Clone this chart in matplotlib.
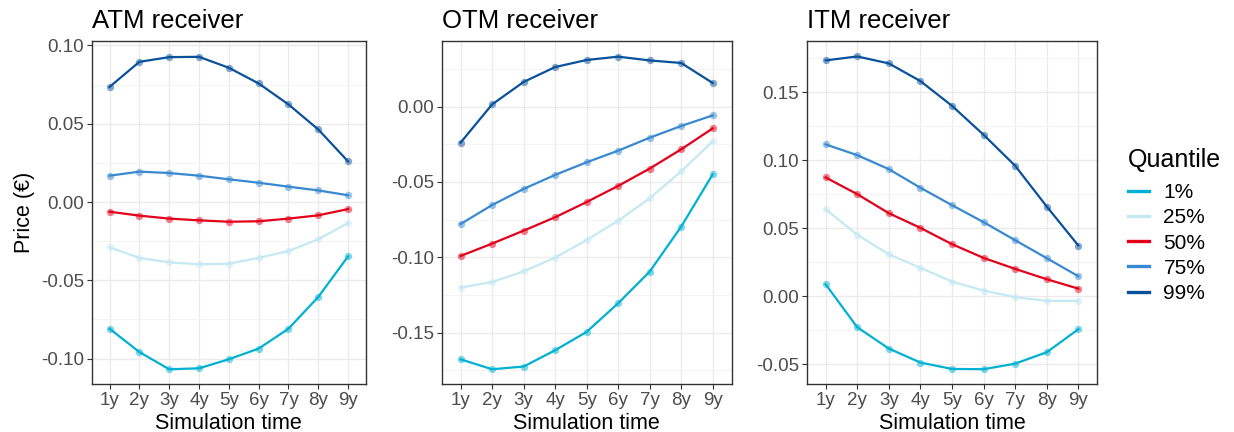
import numpy as np
import matplotlib.pyplot as plt
from matplotlib.lines import Line2D
from matplotlib.ticker import MultipleLocator

plt.rcParams['font.family'] = ['Liberation Sans', 'DejaVu Sans']

times = ['1y', '2y', '3y', '4y', '5y', '6y', '7y', '8y', '9y']
quantiles = ['1%', '25%', '50%', '75%', '99%']
colors = ['#00B1D2', '#C5E9F2', '#E2001A', '#3889D0', '#0A519C']

atm_q01 = [-0.0809, -0.0958, -0.1068, -0.1062, -0.1004, -0.0936, -0.0809, -0.0606, -0.0347]
atm_q25 = [-0.0289, -0.0357, -0.0385, -0.0398, -0.0394, -0.0357, -0.0313, -0.0238, -0.0134]
atm_q50 = [-0.0062, -0.0087, -0.0106, -0.0117, -0.0126, -0.0123, -0.0106, -0.0085, -0.0045]
atm_q75 = [0.0168, 0.0194, 0.0185, 0.0168, 0.0145, 0.0123, 0.0098, 0.0074, 0.0043]
atm_q99 = [0.0735, 0.0895, 0.0925, 0.0927, 0.0857, 0.0757, 0.0623, 0.0463, 0.0259]

otm_q01 = [-0.1677, -0.1743, -0.1725, -0.1617, -0.1495, -0.1305, -0.1095, -0.0796, -0.0449]
otm_q25 = [-0.1201, -0.1164, -0.1093, -0.1002, -0.0885, -0.0757, -0.0608, -0.0429, -0.0230]
otm_q50 = [-0.0991, -0.0909, -0.0823, -0.0734, -0.0633, -0.0526, -0.0411, -0.0283, -0.0144]
otm_q75 = [-0.0779, -0.0653, -0.0546, -0.0453, -0.0369, -0.0292, -0.0206, -0.0128, -0.0058]
otm_q99 = [-0.0239, 0.0015, 0.0164, 0.0263, 0.0310, 0.0332, 0.0307, 0.0290, 0.0157]

itm_q01 = [0.0088, -0.0228, -0.0385, -0.0488, -0.0535, -0.0537, -0.0496, -0.0412, -0.0243]
itm_q25 = [0.0640, 0.0452, 0.0309, 0.0209, 0.0108, 0.0042, -0.0007, -0.0034, -0.0034]
itm_q50 = [0.0874, 0.0751, 0.0611, 0.0503, 0.0383, 0.0282, 0.0201, 0.0125, 0.0056]
itm_q75 = [0.1117, 0.1038, 0.0935, 0.0798, 0.0670, 0.0545, 0.0412, 0.0280, 0.0147]
itm_q99 = [0.1735, 0.1764, 0.1713, 0.1583, 0.1401, 0.1188, 0.0960, 0.0660, 0.0373]

panels = [
    ('ATM receiver', [atm_q01, atm_q25, atm_q50, atm_q75, atm_q99], (-0.1164, 0.1030), [0.0743, 0.2223]),
    ('OTM receiver', [otm_q01, otm_q25, otm_q50, otm_q75, otm_q99], (-0.1843, 0.0438), [0.3579, 0.2350]),
    ('ITM receiver', [itm_q01, itm_q25, itm_q50, itm_q75, itm_q99], (-0.0648, 0.1880), [0.6537, 0.2355]),
]

fig = plt.figure(figsize=(12.34, 4.32), dpi=100)
x = np.arange(1, len(times) + 1)

for k, (title, series, ylim, (left, width)) in enumerate(panels):
    ax = fig.add_axes([left, 0.1104, width, 0.7954])
    for vals, col in zip(series, colors):
        ax.plot(x, vals, color=col, lw=1.6, zorder=3)
        ax.plot(x, vals, 'o', color=col, ms=5.3, alpha=0.5, mec='none', zorder=4)
    ax.set_xlim(0.4, 9.6)
    ax.set_ylim(*ylim)
    ax.set_xticks(x)
    ax.set_xticklabels(times)
    ax.yaxis.set_major_locator(MultipleLocator(0.05))
    ax.yaxis.set_minor_locator(MultipleLocator(0.025))
    ax.yaxis.set_major_formatter(plt.FuncFormatter(lambda v, p: f'{v:.2f}'.replace('-0.00', '0.00')))
    ax.grid(True, which='major', color='#EBEBEB', lw=1.0, zorder=0)
    ax.grid(True, which='minor', axis='y', color='#F2F2F2', lw=0.6, zorder=0)
    ax.tick_params(which='major', length=3.5, width=0.8, color='#333333',
                   labelsize=13.5, labelcolor='#4D4D4D', pad=2)
    ax.tick_params(which='minor', length=0)
    for s in ax.spines.values():
        s.set_color('#333333')
        s.set_linewidth(1.0)
    ax.set_title(title, loc='left', fontsize=18.5, pad=9)
    ax.set_xlabel('Simulation time', fontsize=15.5, labelpad=3)
    if k == 0:
        ax.set_ylabel('Price (€)', fontsize=15.5, labelpad=4)

fig.text(1128 / 1234, 1 - 166.7 / 432, 'Quantile', fontsize=18, ha='left', va='baseline')
handles = [Line2D([], [], color=c, lw=2.4) for c in colors]
leg = fig.legend(handles, quantiles, loc='upper left', bbox_to_anchor=(1128 / 1234, 1 - 183 / 432),
                 frameon=False, fontsize=15, handlelength=1.0, labelspacing=0.30,
                 handletextpad=0.7, borderpad=0, borderaxespad=0)

fig.savefig('out.png', dpi=100)
